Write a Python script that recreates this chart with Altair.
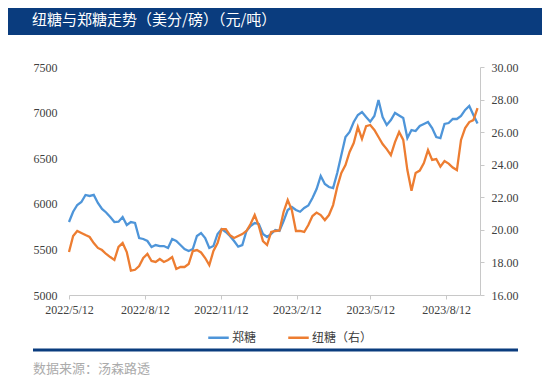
import altair as alt
import pandas as pd

# ---- data ----
dates = pd.date_range("2022-05-12", periods=100, freq="5D").strftime("%Y/%m/%d").tolist()

zheng = [5800, 5913, 5987, 6020, 6097, 6086, 6097, 6009, 5943, 5905,
         5855, 5800, 5804, 5855, 5768, 5800, 5790, 5625, 5614, 5592,
         5526, 5548, 5537, 5537, 5515, 5614, 5592, 5548, 5504, 5482,
         5504, 5647, 5680, 5625, 5515, 5537, 5669, 5724, 5691, 5647,
         5592, 5530, 5548, 5702, 5757, 5789, 5779, 5669, 5636, 5669,
         5713, 5702, 5811, 5932, 5965, 5932, 5913, 5954, 5981, 6064,
         6162, 6305, 6217, 6184, 6173, 6338, 6535, 6732, 6787, 6897,
         6974, 7007, 6952, 6900, 6963, 7138, 6952, 6864, 6919, 6996,
         6968, 6941, 6721, 6809, 6798, 6853, 6875, 6897, 6831, 6732,
         6721, 6875, 6886, 6930, 6930, 6963, 7029, 7072, 6974, 6880]

ice = [18.64, 19.62, 19.93, 19.81, 19.68, 19.56, 19.19, 18.89, 18.76, 18.52,
       18.33, 18.15, 18.95, 19.19, 18.64, 17.50, 17.55, 17.78, 18.27, 18.52,
       18.09, 18.03, 18.21, 18.03, 18.15, 18.33, 17.60, 17.72, 17.72, 17.90,
       18.70, 18.76, 18.61, 18.27, 17.84, 18.70, 19.19, 20.05, 20.05, 19.68,
       19.50, 19.62, 19.74, 19.93, 20.36, 20.91, 20.24, 19.31, 19.07, 19.87,
       19.93, 19.96, 21.10, 21.83, 21.22, 19.93, 19.93, 19.87, 20.30, 20.85,
       21.06, 20.91, 20.60, 20.91, 21.52, 22.63, 23.49, 23.98, 24.78, 25.33,
       26.31, 25.58, 26.37, 26.44, 26.13, 25.70, 25.27, 24.96, 24.59, 25.39,
       26.01, 25.52, 23.67, 22.40, 23.49, 23.64, 24.10, 24.90, 24.29, 24.35,
       23.88, 24.23, 24.07, 23.83, 23.67, 25.52, 26.25, 26.62, 26.74, 27.48]

series_names = ["郑糖", "纽糖（右）"]
left_ticks = [5000, 5500, 6000, 6500, 7000, 7500]
right_ticks = [16, 18, 20, 22, 24, 26, 28, 30]
x_tick_dates = [(2022, 5, 12), (2022, 8, 12), (2022, 11, 12),
                (2023, 2, 12), (2023, 5, 12), (2023, 8, 12)]

title_text = "纽糖与郑糖走势（美分/磅）（元/吨）"
source_text = "数据来源：汤森路透"

df = pd.DataFrame({"date": dates, "zc": zheng, "ny": ice})

# ---- styling ----
BLUE = "#4E95D9"
ORANGE = "#ED7D31"
NAVY = "#0A3C7E"
AX_FONT = "Liberation Serif"
CJK = "Noto Sans CJK SC"
W, H = 411, 228

color_scale = alt.Scale(domain=series_names, range=[BLUE, ORANGE])

x_enc = alt.X(
    "date:T",
    scale=alt.Scale(domain=[alt.DateTime(year=2022, month=5, date=12),
                            alt.DateTime(year=2023, month=9, date=22)]),
    axis=alt.Axis(
        title=None,
        values=[alt.DateTime(year=y, month=m, date=d) for (y, m, d) in x_tick_dates],
        format="%Y/%-m/%-d",
        labelFlush=False, labelOverlap=False,
        labelFont=AX_FONT, labelFontSize=12, labelColor="#404040",
        domainColor="#c8c8c8", tickColor="#c8c8c8", tickSize=4,
        labelPadding=5, grid=False,
    ),
)

base = alt.Chart(df)

blue = base.transform_calculate(s="'郑糖'").mark_line(strokeWidth=2.3).encode(
    x=x_enc,
    y=alt.Y("zc:Q",
            scale=alt.Scale(domain=[5000, 7500], nice=False, zero=False),
            axis=alt.Axis(orient="left", title=None, values=left_ticks, format="d",
                          domain=False, ticks=False, tickSize=0, labelPadding=12,
                          labelFlush=False,
                          labelFont=AX_FONT, labelFontSize=12, labelColor="#404040",
                          grid=False)),
    color=alt.Color("s:N", scale=color_scale,
                    legend=alt.Legend(title=None, orient="none", direction="horizontal",
                                      legendX=138, legendY=259, padding=0,
                                      symbolType="stroke", symbolSize=420,
                                      symbolStrokeWidth=2.5, labelOffset=2,
                                      columnPadding=26,
                                      labelFont=CJK, labelFontSize=12,
                                      labelColor="#404040")),
)

orange = base.transform_calculate(s="'纽糖（右）'").mark_line(strokeWidth=2.3).encode(
    x=x_enc,
    y=alt.Y("ny:Q",
            scale=alt.Scale(domain=[16, 30], nice=False, zero=False),
            axis=alt.Axis(orient="right", title=None, values=right_ticks, format=".2f",
                          domainColor="#c8c8c8", tickColor="#c8c8c8", tickSize=4,
                          labelPadding=7, labelFlush=False,
                          labelFont=AX_FONT, labelFontSize=12, labelColor="#404040",
                          grid=False)),
    color=alt.Color("s:N", scale=color_scale),
)

one = pd.DataFrame({"t": [title_text], "src": [source_text]})

title_bar = alt.Chart(one).mark_rect(color=NAVY).encode(
    x=alt.value(-61), x2=alt.value(473), y=alt.value(-59), y2=alt.value(-32))

title = alt.Chart(one).mark_text(align="left", baseline="middle", color="white",
                                 font=CJK, fontSize=15).encode(
    text="t:N", x=alt.value(-37), y=alt.value(-47))

bottom_rule = alt.Chart(one).mark_rule(color=NAVY, strokeWidth=3).encode(
    x=alt.value(-36), x2=alt.value(449), y=alt.value(283))

source = alt.Chart(one).mark_text(align="left", baseline="middle", color="#ABABAB",
                                  font=CJK, fontSize=13).encode(
    text="src:N", x=alt.value(-36), y=alt.value(302))

chart = alt.layer(title_bar, title, bottom_rule, source, blue, orange).resolve_scale(
    y="independent"
).properties(
    width=W, height=H,
    autosize=alt.AutoSizeParams(type="none"),
    padding={"left": 61, "top": 59, "right": 62, "bottom": 82},
    background="white",
).configure_view(stroke=None)

chart.save("out.html", embed_options={"renderer": "svg", "actions": False})
